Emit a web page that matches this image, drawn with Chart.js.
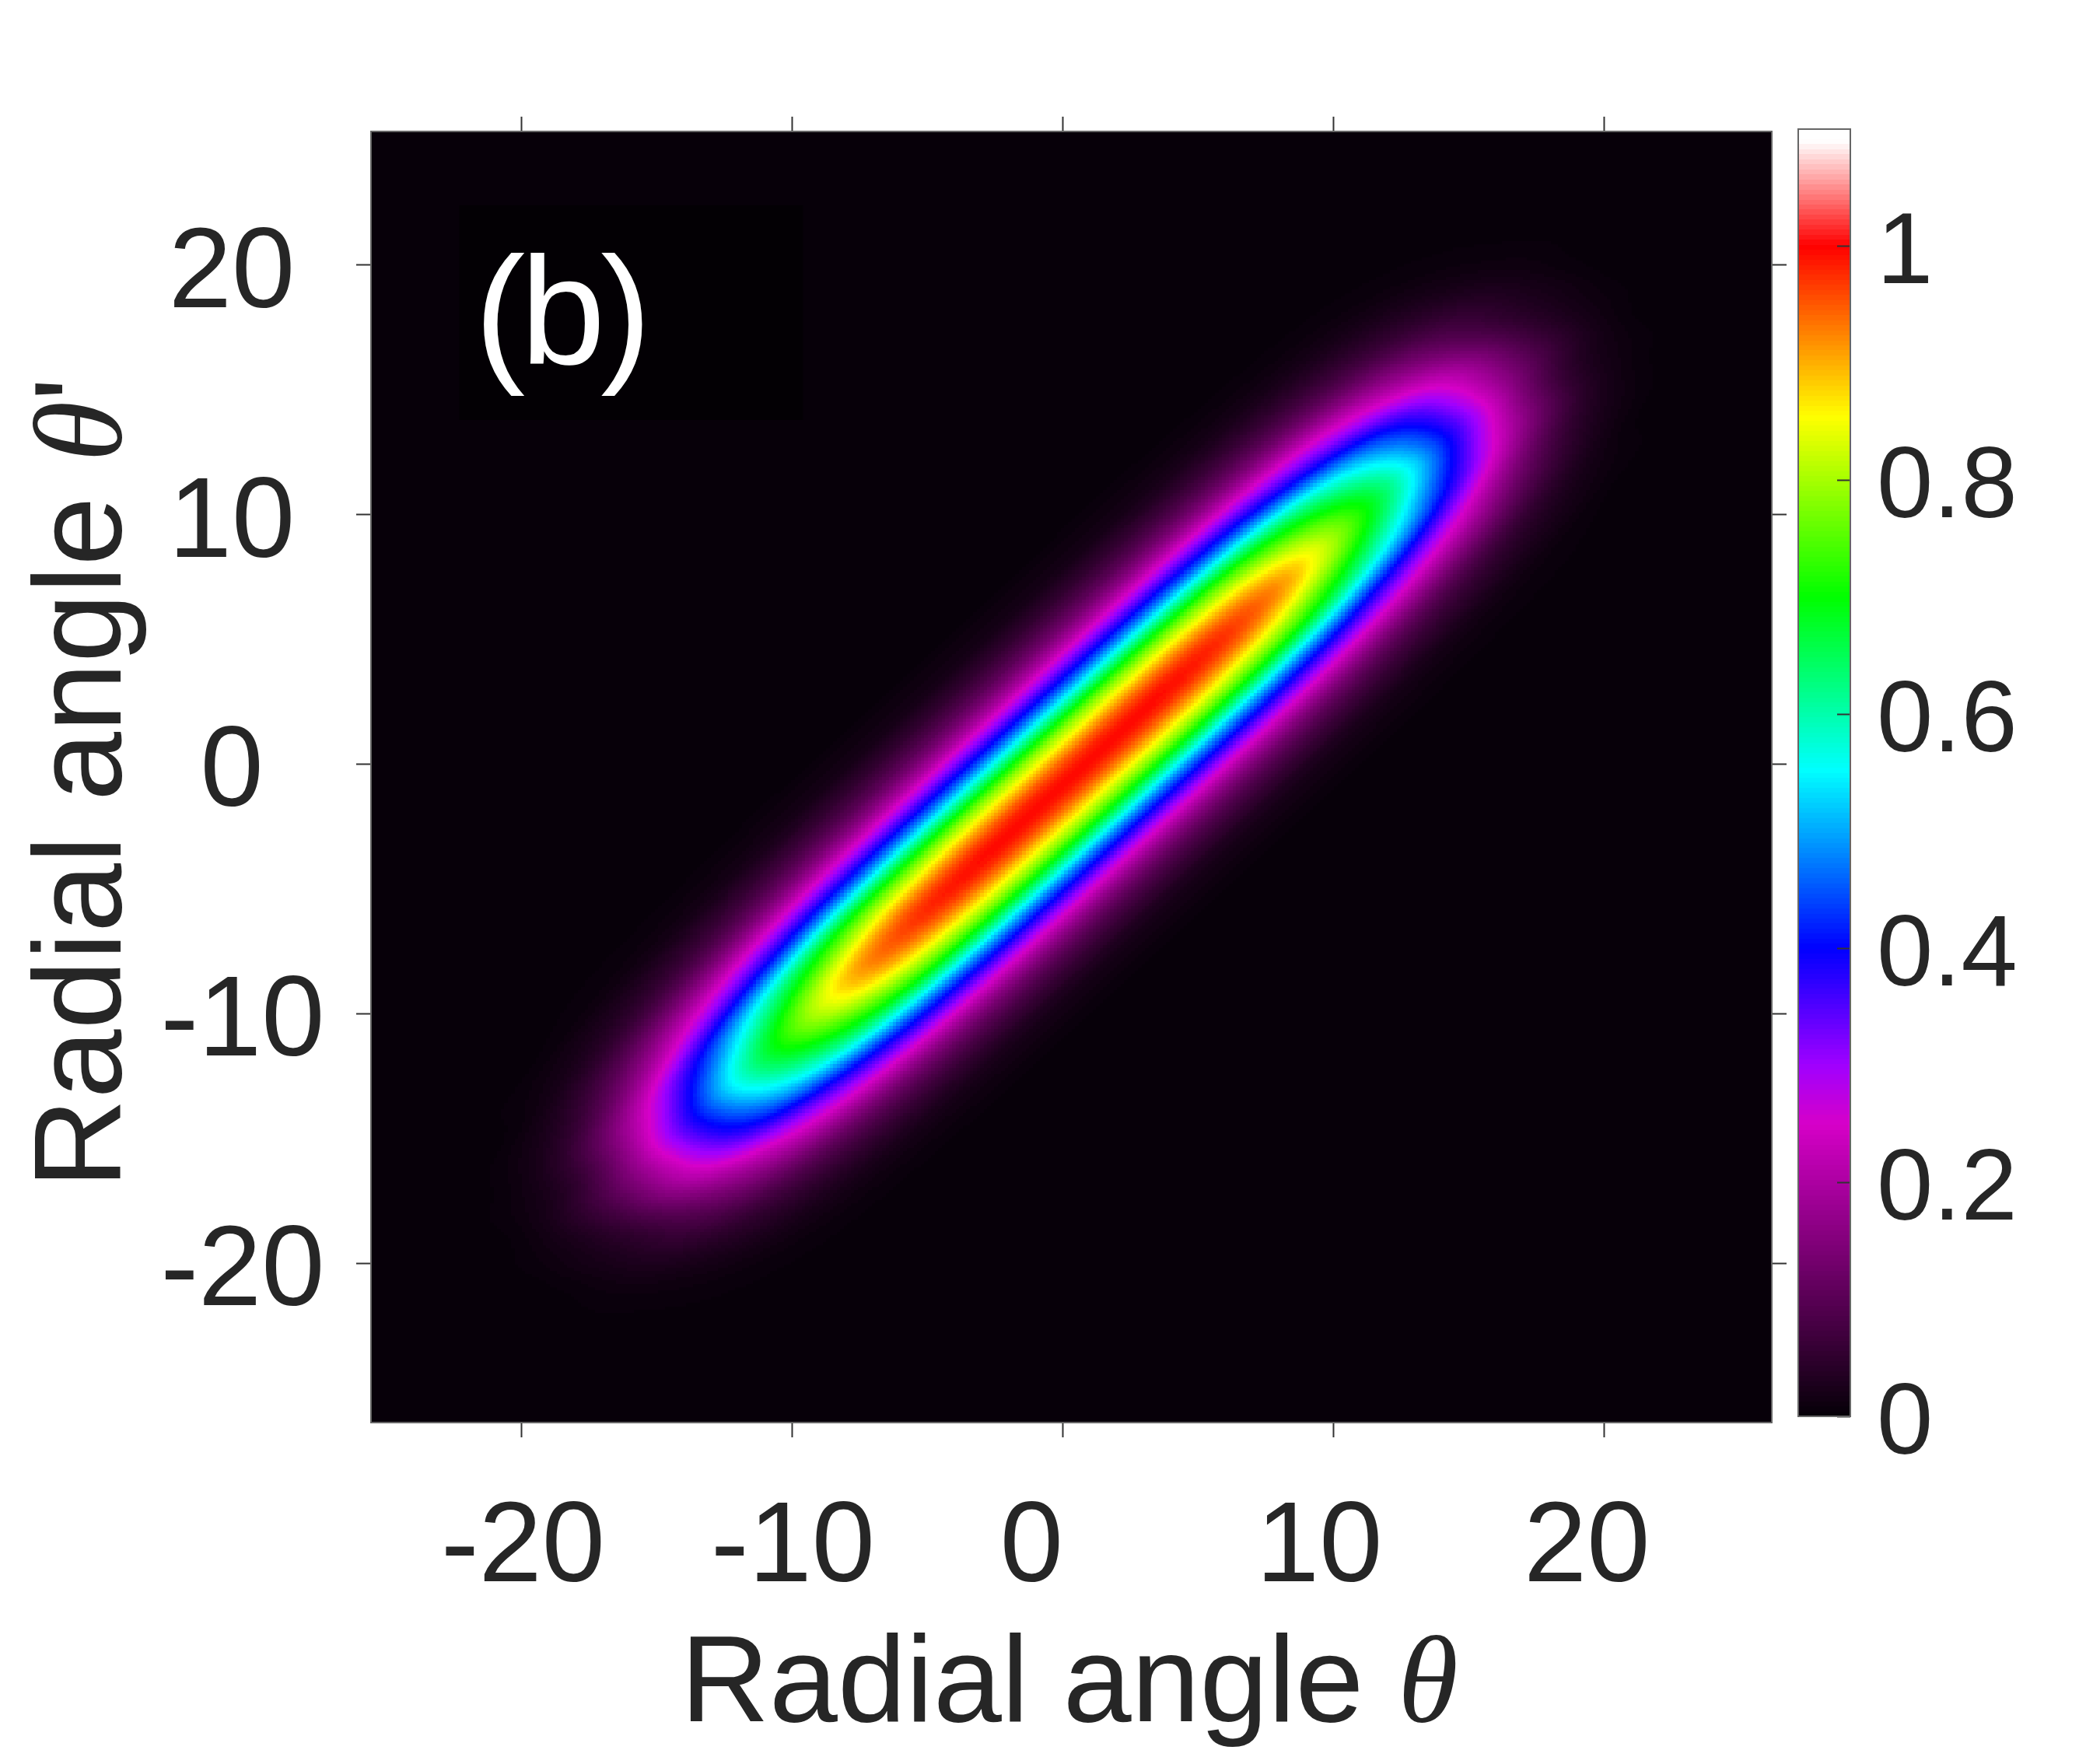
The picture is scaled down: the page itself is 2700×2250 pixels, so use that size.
<!DOCTYPE html>
<html>
<head>
<meta charset="utf-8">
<title>Radial angle map</title>
<script src="https://cdn.jsdelivr.net/npm/chart.js@4/dist/chart.umd.min.js"></script>
<style>
  html, body { margin: 0; padding: 0; background: #fff; }
  #wrap { position: relative; width: 2700px; height: 2250px; overflow: hidden; }
  canvas { position: absolute; top: 0; }
  #map { left: 0; }
  #bar { left: 2290px; }
</style>
</head>
<body>
<div id="wrap">
  <canvas id="map" width="2700" height="2250"></canvas>
  <canvas id="bar" width="410" height="2250"></canvas>
</div>
<script>
// values, every 2 degrees
// each row is one theta' and runs along theta - theta' = bandOffset
const thetaPrimeRows = [22, 20, 18, 16, 14, 12, 10, 8, 6, 4, 2, 0, -2, -4, -6, -8, -10, -12, -14, -16, -18, -20, -22];
const bandOffset = [-12, -10, -8, -6, -4, -2, 0, 2, 4, 6, 8, 10, 12];
const intensityRows = [
  [0, .001, .002, .002, .002, 0, 0, 0, 0, 0, 0, 0, 0],
  [0, .002, .006, .013, .018, .012, .004, 0, 0, 0, 0, 0, 0],
  [0, .003, .015, .043, .072, .065, .040, .012, .002, 0, 0, 0, 0],
  [.001, .004, .024, .079, .165, .217, .160, .065, .018, .002, 0, 0, 0],
  [.001, .005, .031, .111, .264, .397, .370, .217, .072, .013, .002, 0, 0],
  [.001, .006, .036, .136, .342, .556, .590, .397, .165, .043, .006, .001, 0],
  [.001, .006, .039, .153, .402, .683, .765, .556, .264, .079, .015, .002, 0],
  [.001, .006, .040, .160, .431, .769, .900, .683, .342, .111, .024, .003, 0],
  [.001, .006, .040, .162, .443, .802, .965, .769, .402, .136, .031, .004, 0],
  [.001, .006, .040, .162, .445, .814, .990, .802, .431, .153, .036, .005, .001],
  [.001, .006, .040, .162, .445, .814, .995, .814, .443, .160, .039, .006, .001],
  [.001, .006, .040, .162, .445, .814, .995, .814, .445, .162, .040, .006, .001],
  [.001, .006, .039, .160, .443, .814, .995, .814, .445, .162, .040, .006, .001],
  [.001, .005, .036, .153, .431, .802, .990, .814, .445, .162, .040, .006, .001],
  [0, .004, .031, .136, .402, .769, .965, .802, .443, .162, .040, .006, .001],
  [0, .003, .024, .111, .342, .683, .900, .769, .431, .160, .040, .006, .001],
  [0, .002, .015, .079, .264, .556, .765, .683, .402, .153, .039, .006, .001],
  [0, .001, .006, .043, .165, .397, .590, .556, .342, .136, .036, .006, .001],
  [0, 0, .002, .013, .072, .217, .370, .397, .264, .111, .031, .005, .001],
  [0, 0, 0, .002, .018, .065, .160, .217, .165, .079, .024, .004, .001],
  [0, 0, 0, 0, .002, .012, .040, .065, .072, .043, .015, .003, 0],
  [0, 0, 0, 0, 0, 0, .004, .012, .018, .013, .006, .002, 0],
  [0, 0, 0, 0, 0, 0, 0, 0, .002, .002, .002, .001, 0],
];

const xTickValues = [-20, -10, 0, 10, 20];
const xTickLabels = ['-20', '-10', '0', '10', '20'];
const yTickValues = [20, 10, 0, -10, -20];
const yTickLabels = ['20', '10', '0', '-10', '-20'];
const barTickValues = [0, 0.2, 0.4, 0.6, 0.8, 1];
const barTickLabels = ['0', '0.2', '0.4', '0.6', '0.8', '1'];
const colorStopValues = [0, 0.25, 0.3, 0.4, 0.552, 0.7, 0.854, 1, 1.09, 1.1];
const colorStopColors = [[5, 0, 7], [214, 0, 200], [160, 0, 255], [0, 0, 255], [0, 255, 255], [0, 255, 0], [255, 255, 0], [255, 0, 0], [255, 255, 255], [255, 255, 255]];

// axis limits and where the image centre sits on them
const xLimits = [-25.56, 26.2];
const yLimits = [-26.39, 25.36];
const fieldCentre = { x: 0.32, y: -0.5 };
const barMax = 1.1;
const gridStep = 2;
const mapCells = 400;

const sans = '"Liberation Sans"';
const serif = '"Liberation Serif"';
const textColor = '#262626';
const tickColor = '#333';
const frameColor = '#666';

// one scatter point per value, the plugin below paints them
const cells = [];
thetaPrimeRows.forEach((thetaPrime, r) => {
  bandOffset.forEach((offset, c) => {
    cells.push({
      x: thetaPrime + offset + fieldCentre.x,
      y: thetaPrime + fieldCentre.y,
      v: intensityRows[r][c],
    });
  });
});

// colormap has 256 levels like the original bar
function colorOf(value) {
  const level = Math.min(255, Math.max(0, Math.floor((value / barMax) * 256)));
  const v = ((level + 0.5) / 256) * barMax;
  let i = 0;
  while (i < colorStopValues.length - 2 && v > colorStopValues[i + 1]) i++;
  const t = Math.min(1, (v - colorStopValues[i]) / (colorStopValues[i + 1] - colorStopValues[i]));
  const a = colorStopColors[i];
  const b = colorStopColors[i + 1];
  return [0, 1, 2].map((k) => Math.round(a[k] + (b[k] - a[k]) * t));
}

// Catmull-Rom weights, same as shading the grid smoothly
function weights(t) {
  return [
    0.5 * (-t + 2 * t * t - t * t * t),
    0.5 * (2 - 5 * t * t + 3 * t * t * t),
    0.5 * (t + 4 * t * t - 3 * t * t * t),
    0.5 * (-t * t + t * t * t),
  ];
}

const heatmapPlugin = {
  id: 'heatmap',
  beforeDatasetsDraw(chart) {
    const { x: xs, y: ys } = chart.scales;
    const ctx = chart.ctx;
    // grid is (theta', theta - theta') so the smoothing runs along the ridge
    const half = 20;
    const size = half * 2 + 1;
    const grid = new Float32Array(size * size);
    chart.data.datasets[0].data.forEach((p) => {
      const dy = p.y - fieldCentre.y;
      const dx = p.x - fieldCentre.x;
      const row = Math.round(dy / gridStep) + half;
      const band = Math.round((dx - dy) / gridStep) + half;
      if (row >= 0 && row < size && band >= 0 && band < size) grid[row * size + band] = p.v;
    });

    const off = document.createElement('canvas');
    off.width = mapCells;
    off.height = mapCells;
    const octx = off.getContext('2d');
    const img = octx.createImageData(mapCells, mapCells);
    for (let row = 0; row < mapCells; row++) {
      const dy = ys.max - ((row + 0.5) / mapCells) * (ys.max - ys.min) - fieldCentre.y;
      const gr = dy / gridStep + half;
      const r0 = Math.floor(gr);
      const wr = weights(gr - r0);
      for (let col = 0; col < mapCells; col++) {
        const dx = xs.min + ((col + 0.5) / mapCells) * (xs.max - xs.min) - fieldCentre.x;
        const gb = (dx - dy) / gridStep + half;
        const b0 = Math.floor(gb);
        const wb = weights(gb - b0);
        let v = 0;
        for (let n = 0; n < 4; n++) {
          for (let m = 0; m < 4; m++) {
            const b = b0 - 1 + m;
            const r = r0 - 1 + n;
            if (b >= 0 && b < size && r >= 0 && r < size) v += wb[m] * wr[n] * grid[r * size + b];
          }
        }
        const rgb = colorOf(Math.max(0, v));
        const k = (row * mapCells + col) * 4;
        img.data[k] = rgb[0];
        img.data[k + 1] = rgb[1];
        img.data[k + 2] = rgb[2];
        img.data[k + 3] = 255;
      }
    }
    octx.putImageData(img, 0, 0);

    const left = xs.getPixelForValue(xs.min);
    const right = xs.getPixelForValue(xs.max);
    const top = ys.getPixelForValue(ys.max);
    const bottom = ys.getPixelForValue(ys.min);
    ctx.save();
    ctx.imageSmoothingEnabled = false;
    ctx.drawImage(off, left, top, right - left, bottom - top);
    // the label box is only just darker than the background
    ctx.fillStyle = '#030004';
    ctx.fillRect(xs.getPixelForValue(-22.3), ys.getPixelForValue(22.4),
      xs.getPixelForValue(-9.6) - xs.getPixelForValue(-22.3), ys.getPixelForValue(13.8) - ys.getPixelForValue(22.4));
    ctx.restore();
  },
};

const xLabelNudge = [2, 1, -40, -18, -22];
const xLabelBaseline = 2033;
const yLabelCentre = { plain: 298, minus: 312 };
const yLabelDrop = 54;

function drawParts(ctx, parts) {
  let x = 0;
  parts.forEach((part) => {
    ctx.font = part.font;
    ctx.fillText(part.text, x, 0);
    x += ctx.measureText(part.text).width;
  });
}

const labelsPlugin = {
  id: 'labels',
  afterDraw(chart) {
    const { x: xs, y: ys } = chart.scales;
    const ctx = chart.ctx;
    ctx.save();
    ctx.fillStyle = textColor;
    ctx.textBaseline = 'alphabetic';

    ctx.font = `146px ${sans}`;
    ctx.textAlign = 'center';
    xTickValues.forEach((v, i) => {
      ctx.fillText(xTickLabels[i], xs.getPixelForValue(v) + xLabelNudge[i], xLabelBaseline);
    });
    yTickValues.forEach((v, i) => {
      const cx = v < 0 ? yLabelCentre.minus : yLabelCentre.plain;
      ctx.fillText(yTickLabels[i], cx, ys.getPixelForValue(v) + yLabelDrop);
    });

    ctx.textAlign = 'left';
    ctx.save();
    ctx.translate(875, 2213);
    drawParts(ctx, [{ text: 'Radial angle ', font: `158px ${sans}` }, { text: 'θ', font: `italic 158px ${serif}` }]);
    ctx.restore();

    ctx.save();
    ctx.translate(155, 1528);
    ctx.rotate(-Math.PI / 2);
    drawParts(ctx, [{ text: 'Radial angle ', font: `160px ${sans}` }, { text: 'θ', font: `italic 160px ${serif}` }, { text: "'", font: `160px ${sans}` }]);
    ctx.restore();

    ctx.fillStyle = '#fff';
    ctx.font = `196px ${sans}`;
    ctx.letterSpacing = '-6px';
    ctx.fillText('(b)', 610, 468);
    ctx.restore();
  },
};

function fixedTicks(values) {
  return (scale) => {
    scale.ticks = values.map((value) => ({ value }));
  };
}

function frameScale(position, values, limits, outerSize) {
  const horizontal = position === 'top' || position === 'bottom';
  return {
    type: 'linear',
    position,
    axis: horizontal ? 'x' : 'y',
    min: limits[0],
    max: limits[1],
    afterBuildTicks: fixedTicks(values),
    afterFit(scale) {
      if (horizontal) scale.height = outerSize;
      else scale.width = outerSize;
    },
    ticks: { display: false },
    grid: { drawOnChartArea: false, tickLength: 19, tickColor, tickWidth: 2 },
    border: { display: true, color: frameColor, width: 2, z: 2 },
  };
}

new Chart(document.getElementById('map').getContext('2d'), {
  type: 'scatter',
  data: { datasets: [{ label: 'Intensity', data: cells, pointRadius: 0, showLine: false }] },
  options: {
    responsive: false,
    animation: false,
    devicePixelRatio: 1,
    layout: { padding: 0 },
    plugins: { legend: { display: false }, tooltip: { enabled: false } },
    scales: {
      x: frameScale('bottom', xTickValues, xLimits, 421),
      xTop: frameScale('top', xTickValues, xLimits, 169),
      y: frameScale('left', yTickValues, yLimits, 477),
      yRight: frameScale('right', yTickValues, yLimits, 422),
    },
  },
  plugins: [heatmapPlugin, labelsPlugin],
});

// colour bar, one strip per level
const barPlugin = {
  id: 'bar',
  beforeDatasetsDraw(chart) {
    const ys = chart.scales.y;
    const { left, right } = chart.chartArea;
    const ctx = chart.ctx;
    for (let level = 0; level < 256; level++) {
      const lo = (level / 256) * barMax;
      const hi = ((level + 1) / 256) * barMax;
      const rgb = colorOf((lo + hi) / 2);
      const top = Math.round(ys.getPixelForValue(hi));
      const bottom = Math.round(ys.getPixelForValue(lo));
      ctx.fillStyle = `rgb(${rgb[0]},${rgb[1]},${rgb[2]})`;
      ctx.fillRect(left, top, right - left, bottom - top);
    }
  },
  afterDraw(chart) {
    const { left, right, top, bottom } = chart.chartArea;
    const ctx = chart.ctx;
    ctx.save();
    ctx.strokeStyle = frameColor;
    ctx.lineWidth = 2;
    ctx.strokeRect(left, top, right - left, bottom - top);
    ctx.restore();
  },
};

new Chart(document.getElementById('bar').getContext('2d'), {
  type: 'scatter',
  data: { datasets: [{ data: [], pointRadius: 0 }] },
  options: {
    responsive: false,
    animation: false,
    devicePixelRatio: 1,
    layout: { padding: { left: 22, top: 166, bottom: 429, right: 0 } },
    plugins: { legend: { display: false }, tooltip: { enabled: false } },
    scales: {
      x: { display: false, min: 0, max: 1 },
      y: {
        position: 'right',
        min: 0,
        max: barMax,
        afterBuildTicks: fixedTicks(barTickValues),
        afterFit(scale) {
          scale.width = 321;
        },
        ticks: {
          padding: 51,
          labelOffset: 12,
          autoSkip: false,
          maxRotation: 0,
          color: textColor,
          font: { family: 'Liberation Sans', size: 130 },
          callback: (value) => barTickLabels[barTickValues.indexOf(value)],
        },
        grid: { drawOnChartArea: false, tickLength: -17, tickColor, tickWidth: 2, z: 1 },
        border: { display: false },
      },
    },
  },
  plugins: [barPlugin],
});
</script>
</body>
</html>
